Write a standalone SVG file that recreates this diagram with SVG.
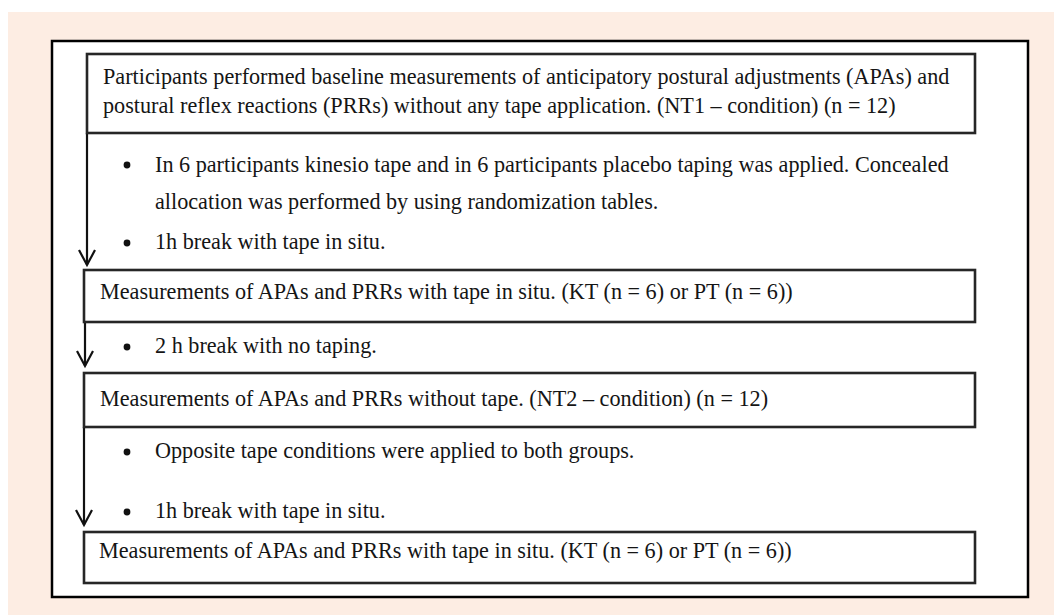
<svg xmlns="http://www.w3.org/2000/svg" width="1054" height="615" viewBox="0 0 1054 615">
<defs>
<style>
.t{font-family:"Liberation Serif","Times New Roman",serif;font-size:22.2px;fill:#151515}
.box{fill:#fff;stroke:#262626;stroke-width:2.6}
.con{stroke:#111;stroke-width:2.2;fill:none}
.dot{fill:#111}
</style>
</defs>
<rect x="8" y="12" width="1046" height="603" fill="#fdede3"/>
<rect x="52" y="41" width="976" height="556" fill="#fff" stroke="#000" stroke-width="2.5"/>
<g id="connectors">
<line class="con" x1="87" y1="133" x2="87" y2="265"/>
<path class="con" d="M79,250 L87,265 L95,250"/>
<line class="con" x1="85" y1="322" x2="85" y2="366"/>
<path class="con" d="M77,351 L85,366 L93,351"/>
<line class="con" x1="84" y1="427" x2="84" y2="525"/>
<path class="con" d="M76,510 L84,525 L92,510"/>
</g>
<g id="node1">
<rect class="box" x="87" y="54" width="888" height="79"/>
<text class="t" x="103" y="84">Participants performed baseline measurements of anticipatory postural adjustments (APAs) and</text>
<text class="t" x="103" y="113">postural reflex reactions (PRRs) without any tape application. (NT1 – condition) (n = 12)</text>
</g>
<g id="notes1">
<circle class="dot" cx="127" cy="165" r="3.4"/>
<text class="t" x="155" y="172">In 6 participants kinesio tape and in 6 participants placebo taping was applied. Concealed</text>
<text class="t" x="155" y="209">allocation was performed by using randomization tables.</text>
<circle class="dot" cx="127" cy="243" r="3.4"/>
<text class="t" x="155" y="249">1h break with tape in situ.</text>
</g>
<g id="node2">
<rect class="box" x="84" y="270" width="891" height="52"/>
<text class="t" x="100" y="299">Measurements of APAs and PRRs with tape in situ. (KT (n = 6) or PT (n = 6))</text>
</g>
<g id="notes2">
<circle class="dot" cx="127" cy="347" r="3.4"/>
<text class="t" x="155" y="353">2 h break with no taping.</text>
</g>
<g id="node3">
<rect class="box" x="84" y="373" width="891" height="54"/>
<text class="t" x="100" y="406">Measurements of APAs and PRRs without tape. (NT2 – condition) (n = 12)</text>
</g>
<g id="notes3">
<circle class="dot" cx="127" cy="452" r="3.4"/>
<text class="t" x="155" y="458">Opposite tape conditions were applied to both groups.</text>
<circle class="dot" cx="127" cy="512" r="3.4"/>
<text class="t" x="155" y="518">1h break with tape in situ.</text>
</g>
<g id="node4">
<rect class="box" x="84" y="532" width="891" height="51"/>
<text class="t" x="99" y="558">Measurements of APAs and PRRs with tape in situ. (KT (n = 6) or PT (n = 6))</text>
</g>
</svg>
